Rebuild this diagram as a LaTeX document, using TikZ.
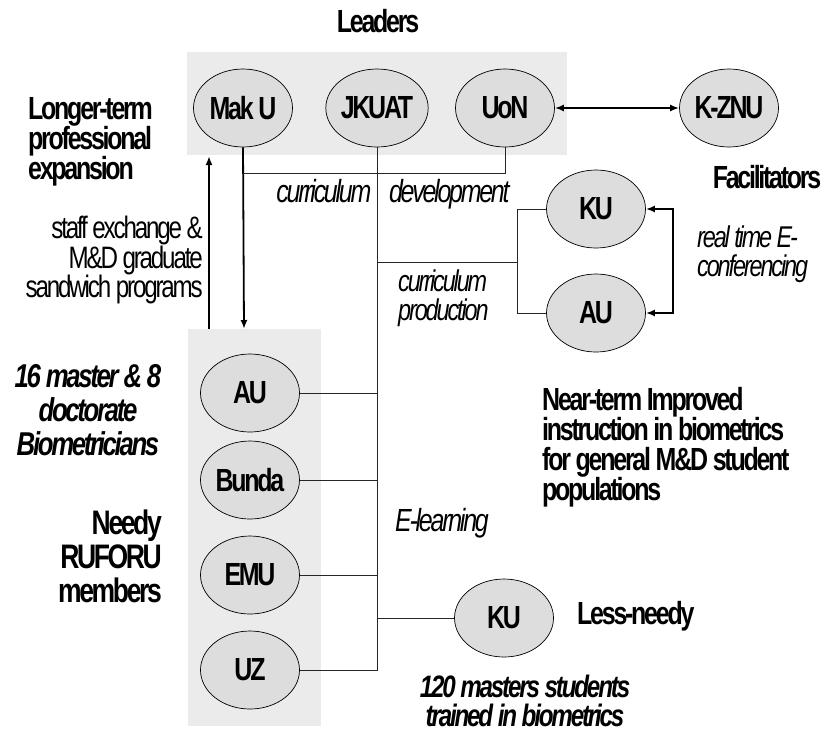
\documentclass[tikz,border=0pt]{standalone}
\usepackage{fontspec}
\setmainfont{Liberation Sans}[FakeStretch=0.78, LetterSpace=-7]
\usetikzlibrary{arrows.meta,shapes.geometric}
\definecolor{boxgray}{RGB}{235,235,235}
\definecolor{ellgray}{RGB}{221,221,221}
\tikzset{
  org/.style={ellipse, draw=black, line width=0.7pt, fill=ellgray, minimum width=99pt, minimum height=78pt, inner sep=0pt, font=\bfseries\fontsize{32}{32}\selectfont},
  conn/.style={line width=1pt, draw=black!85},
  arr/.style={line width=1.8pt, -{Latex[length=9pt,width=7pt]}},
  darr/.style={line width=1.8pt, {Latex[length=9pt,width=7pt]}-{Latex[length=9pt,width=7pt]}},
  lbl/.style={inner sep=0pt, font=\bfseries\fontsize{32}{30}\selectfont},
  biglbl/.style={inner sep=0pt, font=\bfseries\fontsize{34}{34}\selectfont},
  ilbl/.style={inner sep=0pt, font=\itshape\fontsize{30}{28.5}\selectfont},
  rlbl/.style={inner sep=0pt, font=\fontsize{31}{29.5}\selectfont},
  bilbl/.style={inner sep=0pt, font=\bfseries\itshape\fontsize{33}{34}\selectfont},
  bilblsm/.style={inner sep=0pt, font=\bfseries\itshape\fontsize{31}{29}\selectfont}
}
\begin{document}
\begin{tikzpicture}[x=1pt,y=-1pt]
\useasboundingbox (0,0) rectangle (824,732);
\fill[white] (0,0) rectangle (824,732);
% group boxes
\fill[boxgray] (187,52) rectangle (567,155);
\fill[boxgray] (188,329) rectangle (321,726);

% nodes
\node[org] (maku) at (243,108) {Mak U};
\node[org] (jkuat) at (377,108) {JKUAT};
\node[org] (uon) at (505,108) {UoN};
\node[org] (kznu) at (729,108) {K-ZNU};
\node[org] (kuf) at (596,209) {KU};
\node[org] (auf) at (596,313) {AU};
\node[org] (au) at (250,393) {AU};
\node[org] (bunda) at (250,480) {Bunda};
\node[org] (emu) at (250,575) {EMU};
\node[org] (uz) at (250,670) {UZ};
\node[org] (kul) at (504,618) {KU};

% coordinates
\coordinate (lowtop) at (244,329);
\coordinate (upS) at (209,329);
\coordinate (upE) at (209,156);
\coordinate (cd) at (243,173);
\coordinate (br) at (517.5,262);
\coordinate (cp) at (377,262);

% connectors
\draw[arr] (maku.south) -- (lowtop);
\draw[arr] (upS) -- (upE);
\draw[conn] (uon.south) |- (cd);
\draw[conn] (jkuat.south) |- (uz.east);
\draw[conn] (au.east) -- (au.east -| jkuat.south);
\draw[conn] (bunda.east) -- (bunda.east -| jkuat.south);
\draw[conn] (emu.east) -- (emu.east -| jkuat.south);
\draw[conn] (kul.west) -- (kul.west -| jkuat.south);
\draw[conn] (cp) -- (br);
\draw[conn] (kuf.west) -| (br) |- (auf.west);
\draw[darr] (kuf.east) -- ++(27,0) |- (auf.east);
\draw[darr] (uon.east) -- (kznu.west);

% labels
\node[lbl] (leaders) at (378,21) {Leaders};
\node[lbl, align=left, anchor=west] (longer) at (28,142) {Longer-term\\professional\\expansion};
\node[rlbl, align=right, anchor=east] (staff) at (203,260) {staff exchange \&\\M\&D graduate\\sandwich programs};
\node[bilbl, align=center] (masters) at (88,410) {16 master \& 8\\doctorate\\Biometricians};
\node[biglbl, align=right, anchor=east] (needy) at (162,556) {Needy\\RUFORU\\members};
\node[inner sep=0pt, font=\itshape\fontsize{32}{32}\selectfont] (cdev) at (393,194) {curriculum\hspace{13pt} development};
\node[ilbl, align=left, anchor=west] (cprod) at (398,298) {curriculum\\production};
\node[ilbl, align=left, anchor=west] (rte) at (697,254) {real time E-\\conferencing};
\node[lbl] (facil) at (767,177) {Facilitators};
\node[lbl, align=left, anchor=west] (near) at (542,447) {Near-term Improved\\instruction in biometrics\\for general M\&D student\\populations};
\node[inner sep=0pt, font=\itshape\fontsize{32}{32}\selectfont, anchor=west] (elearn) at (395,523) {E-learning};
\node[lbl, anchor=west] (less) at (577,616) {Less-needy};
\node[bilblsm, align=center] (onetwenty) at (525,701) {120 masters students\\trained in biometrics};
\end{tikzpicture}
\end{document}
